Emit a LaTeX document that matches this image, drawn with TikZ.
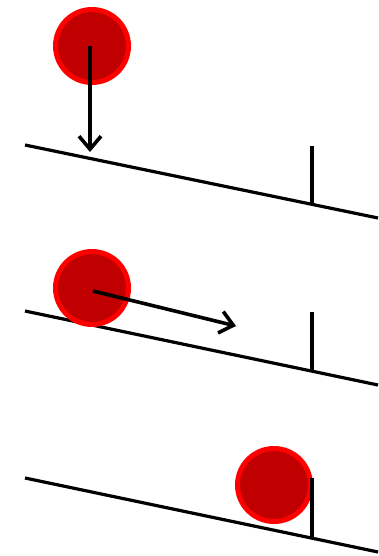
\documentclass[tikz,border=0pt]{standalone}
\usetikzlibrary{arrows.meta}
\definecolor{ballin}{RGB}{192,0,0}
\definecolor{ballout}{RGB}{255,0,0}
\begin{document}
\begin{tikzpicture}[x=1pt,y=-1pt,
  ball/.style={circle,draw=ballout,fill=ballin,line width=5pt,minimum size=73pt,inner sep=0pt},
  ramp/.style={line width=3.2pt,black},
  post/.style={line width=3.2pt,black},
  force/.style={line width=3.6pt,black,-{Straight Barb[length=13pt,width=22pt,line width=3.6pt]}}]
\useasboundingbox (0,0) rectangle (378,556);
% panel 1
\coordinate (r1a) at (25,145);
\coordinate (r1b) at (378,218);
\draw[ramp] (r1a) -- (r1b);
\coordinate (p1t) at (312,146);
\coordinate (p1b) at (312,205);
\draw[post] (p1t) -- (p1b);
\node[ball] (b1) at (92,46) {};
\coordinate (a0) at (90,46);
\coordinate (a1) at (90,152);
\draw[force] (a0) -- (a1);
% panel 2
\coordinate (r2a) at (25,311);
\coordinate (r2b) at (378,385);
\draw[ramp] (r2a) -- (r2b);
\coordinate (p2t) at (312,312);
\coordinate (p2b) at (312,371);
\draw[post] (p2t) -- (p2b);
\node[ball] (b2) at (92,288) {};
\coordinate (a2s) at (93,291);
\coordinate (a2) at (236,326);
\draw[force] (a2s) -- (a2);
% panel 3
\coordinate (r3a) at (25,478);
\coordinate (r3b) at (378,552);
\draw[ramp] (r3a) -- (r3b);
\node[ball] (b3) at (274,485) {};
\coordinate (p3t) at (312,478);
\coordinate (p3b) at (312,538);
\draw[post] (p3t) -- (p3b);
\end{tikzpicture}
\end{document}
